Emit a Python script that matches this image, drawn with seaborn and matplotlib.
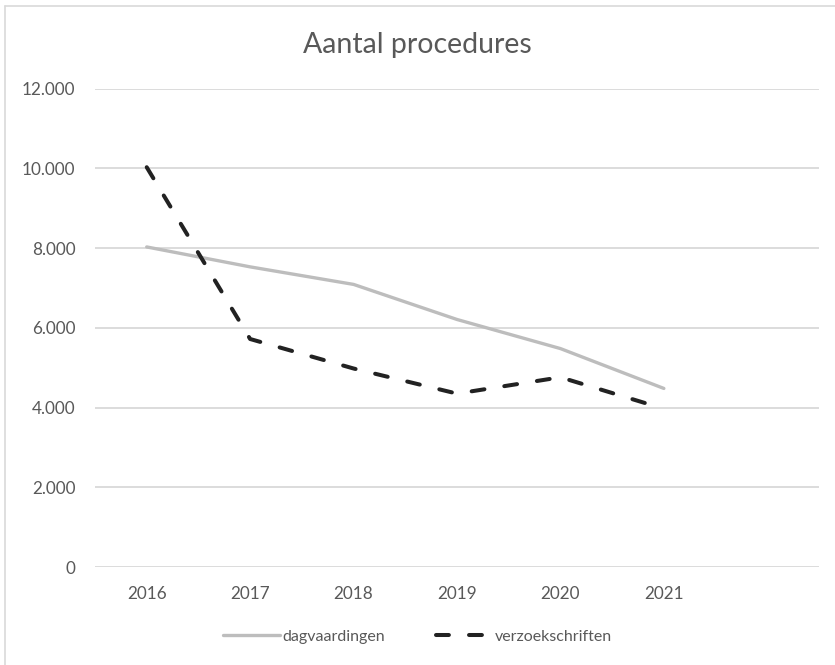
import matplotlib
matplotlib.use("Agg")
import matplotlib.pyplot as plt
from matplotlib.lines import Line2D
from matplotlib.ticker import FuncFormatter
import seaborn as sns
import pandas as pd

years = ["2016", "2017", "2018", "2019", "2020", "2021"]
dagvaardingen = [8030, 7530, 7090, 6210, 5480, 4480]
verzoekschriften = [10030, 5720, 4980, 4350, 4760, 3970]
series_names = ["dagvaardingen", "verzoekschriften"]
y_ticks = [0, 2000, 4000, 6000, 8000, 10000, 12000]
title = "Aantal procedures"

df = pd.DataFrame({
    "jaar": years * 2,
    "waarde": dagvaardingen + verzoekschriften,
    "reeks": [series_names[0]] * len(years) + [series_names[1]] * len(years),
})

sns.set_theme(style="white")
plt.rcParams["font.family"] = ["Lato", "DejaVu Sans"]

TXT = "#595959"
GRID = "#D9D9D9"
C_GRAY = "#BDBDBD"
C_DARK = "#222222"

fig = plt.figure(figsize=(8.35, 6.65), dpi=100)
ax = fig.add_axes([95 / 835, 1 - 567 / 665, (819 - 95) / 835, (567 - 88.7) / 665])

sns.lineplot(data=df, x="jaar", y="waarde", hue="reeks", style="reeks",
             palette={series_names[0]: C_GRAY, series_names[1]: C_DARK},
             dashes={series_names[0]: "", series_names[1]: (3.2, 5.0)},
             sort=False, legend=False, ax=ax)

widths = {series_names[0]: 2.4, series_names[1]: 2.9}
for line, name in zip(ax.lines, series_names):
    line.set_linewidth(widths[name])
    line.set_dash_capstyle("round")
    line.set_solid_capstyle("round")
    line.set_solid_joinstyle("round")

ax.set_xlim(-0.5, 6.5)
ax.set_ylim(0, 12000)
ax.set_yticks(y_ticks)
ax.yaxis.set_major_formatter(FuncFormatter(lambda v, p: f"{int(v):,}".replace(",", ".")))
ax.grid(axis="y", color=GRID, linewidth=1.3)
ax.grid(axis="x", visible=False)
ax.set_axisbelow(True)
for s in ax.spines.values():
    s.set_visible(False)
ax.tick_params(axis="both", length=0, labelsize=12.3, labelcolor=TXT)
ax.tick_params(axis="y", pad=14)
ax.tick_params(axis="x", pad=14)
ax.set_xlabel("")
ax.set_ylabel("")

fig.text(0.5, 1 - 45 / 665, title, ha="center", va="center", fontsize=20.5, color=TXT)

handles = [
    Line2D([], [], color=C_GRAY, lw=2.4, solid_capstyle="round"),
    Line2D([], [], color=C_DARK, lw=2.9, dashes=(3.2, 5.0), dash_capstyle="round"),
]
fig.legend(handles, series_names, loc="center", bbox_to_anchor=(0.5, 1 - 637 / 665),
           ncol=2, frameon=False, fontsize=11.5, labelcolor=TXT, handlelength=3.6,
           handletextpad=0.1, columnspacing=3.2)

fig.add_artist(Line2D([5 / 835, 5 / 835], [0, 1 - 6 / 665], color=GRID, lw=1.2))
fig.add_artist(Line2D([5 / 835, 1], [1 - 6 / 665, 1 - 6 / 665], color=GRID, lw=1.2))

fig.savefig("out.png", dpi=100)
